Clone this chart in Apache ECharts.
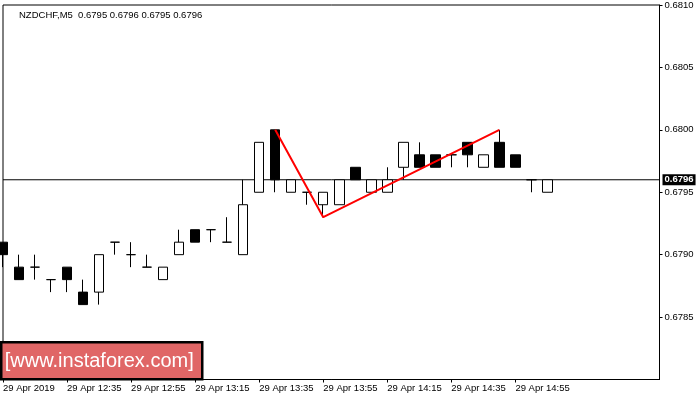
<!DOCTYPE html>
<html>
<head>
<meta charset="utf-8">
<script src="https://cdn.jsdelivr.net/npm/echarts@6/dist/echarts.min.js"></script>
<style>
html,body{margin:0;padding:0;background:#fff;}
#c{width:700px;height:400px;}
</style>
</head>
<body>
<div id="c"></div>
<script>
// Time categories (M5 bars), including empty future slots
var times = ['12:15','12:20','12:25','12:30','12:35','12:40','12:45','12:50','12:55',
  '13:00','13:05','13:10','13:15','13:20','13:25','13:30','13:35','13:40','13:45','13:50','13:55',
  '14:00','14:05','14:10','14:15','14:20','14:25','14:30','14:35','14:40','14:45','14:50','14:55',
  '15:00','15:05','15:10','15:15','15:20','15:25','15:30','15:35','15:40'];
var opens  = [0.6791,0.6789,0.6789,0.6788,0.6789,0.6787,0.6787,0.6791,0.6790,0.6789,0.6788,0.6790,0.6792,0.6792,0.6791,0.6790,0.6795,0.6800,0.6795,0.6795,0.6794,0.6794,0.6797,0.6795,0.6795,0.6797,0.6798,0.6798,0.6798,0.6799,0.6797,0.6799,0.6798,0.6796,0.6795];
var highs  = [0.6791,0.6790,0.6790,0.6788,0.6789,0.6788,0.6790,0.6791,0.6791,0.6790,0.6789,0.6792,0.6792,0.6792,0.6793,0.6796,0.6799,0.6800,0.6796,0.6795,0.6795,0.6796,0.6797,0.6796,0.6797,0.6799,0.6799,0.6798,0.6798,0.6799,0.6798,0.6800,0.6798,0.6796,0.6796];
var lows   = [0.6789,0.6788,0.6788,0.6787,0.6787,0.6786,0.6786,0.6790,0.6789,0.6789,0.6788,0.6790,0.6791,0.6791,0.6791,0.6790,0.6795,0.6795,0.6795,0.6794,0.6793,0.6794,0.6796,0.6795,0.6795,0.6796,0.6797,0.6797,0.6797,0.6797,0.6797,0.6797,0.6797,0.6795,0.6795];
var closes = [0.6790,0.6788,0.6789,0.6788,0.6788,0.6786,0.6790,0.6791,0.6790,0.6789,0.6789,0.6791,0.6791,0.6792,0.6791,0.6794,0.6799,0.6796,0.6796,0.6795,0.6795,0.6796,0.6796,0.6796,0.6796,0.6799,0.6797,0.6797,0.6798,0.6798,0.6798,0.6797,0.6797,0.6796,0.6796];
// Pattern (double top) line points: bar index and price
var patternIdx = [17, 20, 31];
var patternPrice = [0.6800, 0.6793, 0.6800];
var bidPrice = 0.6796;
var titleText = 'NZDCHF,M5  0.6795 0.6796 0.6795 0.6796';
var dateLabel = '29 Apr 2019';
var dayPrefix = '29 Apr ';
var watermark = '[www.instaforex.com]';

var ohlc = opens.map(function(o, i){ return [o, closes[i], lows[i], highs[i]]; });
var patternData = patternIdx.map(function(x, i){ return [x, patternPrice[i]]; });
var bidData = [[0, bidPrice], [times.length - 1, bidPrice]];
var nBars = opens.length;
var FONT = 'Liberation Sans';

var chart = echarts.init(document.getElementById('c'), null, {renderer:'canvas'});
chart.setOption({
  animation: false,
  backgroundColor: '#fff',
  title: {
    text: titleText, left: 14, top: 5,
    textStyle: {fontFamily: FONT, fontSize: 9.5, fontWeight: 'normal', color: '#000'}
  },
  grid: {left: 2.5, top: 3.5, width: 657, height: 376, show: true, borderColor: '#000', borderWidth: 1, backgroundColor: 'transparent'},
  xAxis: {
    type: 'category', data: times, boundaryGap: false,
    axisLine: {show: true, lineStyle: {color: '#000', width: 1}},
    axisTick: {show: true, length: 3, lineStyle: {color: '#000'},
      interval: function(i){ return i % 4 === 0 && i < nBars; }},
    axisLabel: {
      interval: function(i){ return i % 4 === 0 && i < nBars; },
      align: 'left', margin: 4, color: '#000', fontFamily: FONT, fontSize: 9.5,
      formatter: function(v, i){ return i === 0 ? dateLabel : dayPrefix + v; }
    },
    splitLine: {show: false}
  },
  yAxis: {
    type: 'value', position: 'right', min: 0.6780, max: 0.6810, interval: 0.0005,
    axisLine: {show: true, lineStyle: {color: '#000', width: 1}},
    axisTick: {show: true, length: 3, lineStyle: {color: '#000'}},
    axisLabel: {showMinLabel: false, margin: 5, color: '#000', fontFamily: FONT, fontSize: 9.5,
      formatter: function(v){ return v.toFixed(4); }},
    splitLine: {show: false}
  },
  series: [
    {
      type: 'line', data: bidData, symbol: 'none', z: 1, silent: true,
      lineStyle: {color: '#000', width: 1},
      endLabel: {show: true, distance: 3, formatter: bidPrice.toFixed(4),
        color: '#fff', backgroundColor: '#000', padding: [1, 2, 0, 2],
        fontFamily: FONT, fontSize: 9.5, fontWeight: 'bold'}
    },
    {
      type: 'candlestick', data: ohlc, barWidth: 10, clip: false,
      itemStyle: {color: '#fff', color0: '#000', borderColor: '#000', borderColor0: '#000', borderWidth: 1},
      z: 2
    },
    {
      type: 'line', data: patternData, symbol: 'none', z: 5,
      lineStyle: {color: '#ff0000', width: 2}
    }
  ],
  graphic: [{
    type: 'group', left: 0, top: 341, z: 100,
    children: [
      {type: 'rect', shape: {x: 1, y: 0, width: 201, height: 37},
        style: {fill: '#E06666', stroke: '#000', lineWidth: 2.5}},
      {type: 'text', x: 99, y: 19,
        style: {text: watermark, fill: '#fff', font: '20px "Liberation Sans"', align: 'center', verticalAlign: 'middle'}}
    ]
  }]
});
</script>
</body>
</html>
